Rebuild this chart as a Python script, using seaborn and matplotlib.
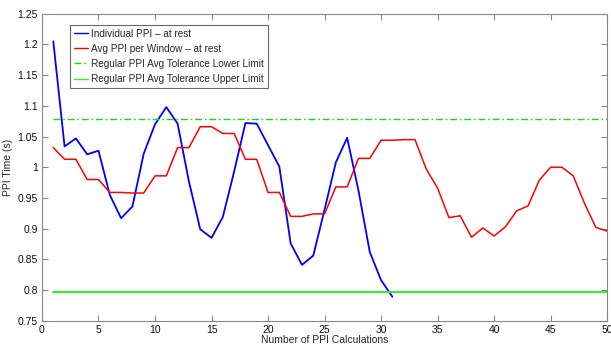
import numpy as np
import pandas as pd
import matplotlib
matplotlib.use("Agg")
import matplotlib.pyplot as plt
import seaborn as sns

# Data
ind_x = list(range(1, 32))
ind_ppi = [1.205, 1.034, 1.047, 1.021, 1.027, 0.955, 0.917, 0.936, 1.022, 1.070,
           1.098, 1.071, 0.977, 0.899, 0.885, 0.919, 0.993, 1.072, 1.071, 1.036,
           1.001, 0.876, 0.841, 0.856, 0.931, 1.008, 1.048, 0.962, 0.862, 0.816, 0.789]
avg_x = list(range(1, 51))
avg_ppi = [1.032, 1.013, 1.013, 0.980, 0.980, 0.959, 0.959, 0.958, 0.958, 0.986,
           0.986, 1.032, 1.032, 1.066, 1.066, 1.055, 1.055, 1.013, 1.013, 0.959,
           0.959, 0.920, 0.920, 0.924, 0.924, 0.968, 0.968, 1.0145, 1.0145, 1.044,
           1.044, 1.045, 1.045, 0.997, 0.966, 0.918, 0.921, 0.886, 0.901, 0.888,
           0.903, 0.929, 0.937, 0.979, 1.000, 1.000, 0.986, 0.941, 0.902, 0.896]
lower_limit = 1.078
upper_limit = 0.796
limit_x = [1, 50]

labels = ["Individual PPI \u2013 at rest", "Avg PPI per Window \u2013 at rest",
          "Regular PPI Avg Tolerance Lower Limit", "Regular PPI Avg Tolerance Upper Limit"]

sns.set_style("white")
plt.rcParams['font.family'] = ['Liberation Sans', 'DejaVu Sans']

fig = plt.figure(figsize=(6.11, 3.45), dpi=100)
ax = fig.add_axes([0.0687, 0.0704, 0.925, 0.8896])

df_ind = pd.DataFrame({"x": ind_x, "y": ind_ppi})
df_avg = pd.DataFrame({"x": avg_x, "y": avg_ppi})
df_lo = pd.DataFrame({"x": limit_x, "y": [lower_limit] * 2})
df_up = pd.DataFrame({"x": limit_x, "y": [upper_limit] * 2})

sns.lineplot(data=df_ind, x="x", y="y", ax=ax, color="#0000ff", lw=1.3, label=labels[0])
sns.lineplot(data=df_avg, x="x", y="y", ax=ax, color="#ff0000", lw=1.1, label=labels[1])
sns.lineplot(data=df_lo, x="x", y="y", ax=ax, color="#11dd11", lw=1.0, dashes=False, label=labels[2])
ax.lines[-1].set_dashes([5, 2, 1.2, 2])
sns.lineplot(data=df_up, x="x", y="y", ax=ax, color="#33ee33", lw=1.5, label=labels[3])

ax.set_xlim(0, 50)
ax.set_ylim(0.75, 1.25)
ax.set_xticks(range(0, 51, 5))
ax.set_yticks(np.arange(0.75, 1.2501, 0.05))
ax.set_yticklabels(["0.75", "0.8", "0.85", "0.9", "0.95", "1", "1.05", "1.1", "1.15", "1.2", "1.25"])
ax.tick_params(direction="in", length=4, width=0.8, color="#888888", labelsize=7.5,
               top=True, right=True, bottom=True, left=True, pad=3, labelcolor="#111111")
for s in ax.spines.values():
    s.set_color("#888888")
    s.set_linewidth(0.8)
ax.set_xlabel("Number of PPI Calculations", fontsize=7.5, labelpad=0)
ax.set_ylabel("PPI Time (s)", fontsize=7.5, labelpad=3)

leg = ax.legend(loc="upper left", bbox_to_anchor=(0.049, 0.965), fontsize=7.2, frameon=True,
                fancybox=False, edgecolor="#444444", handlelength=1.45, handletextpad=0.25,
                borderpad=0.4, labelspacing=0.52, borderaxespad=0)
leg.get_frame().set_linewidth(0.8)
for h in leg.get_lines():
    h.set_linewidth(1.0)

fig.savefig("out.png", dpi=100, facecolor="white")
